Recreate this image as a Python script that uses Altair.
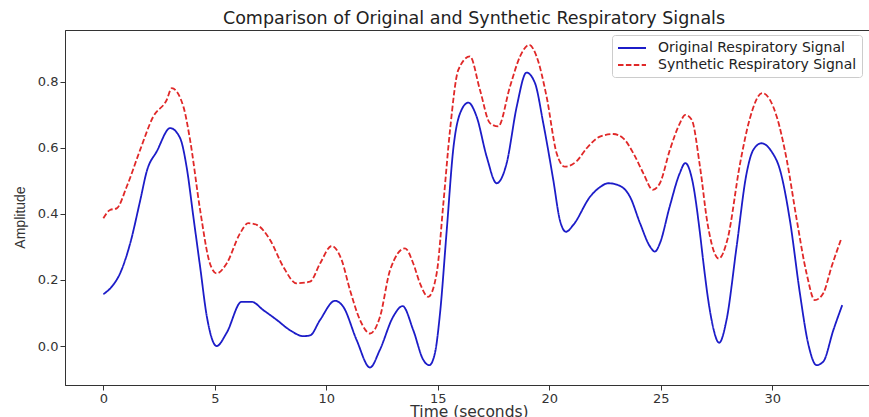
import altair as alt
import pandas as pd

names = ["Original Respiratory Signal", "Synthetic Respiratory Signal"]

t_orig = [0, 0.38, 0.75, 1.2, 1.65, 1.95, 2.4, 3.0, 3.44, 3.74, 4.04, 4.34, 4.64, 5.08, 5.53,
          6.2, 6.65, 7.17, 7.78, 8.37, 8.97, 9.27, 9.72, 10.39, 10.76, 11.36, 11.96, 12.4, 13.0,
          13.42, 13.9, 14.35, 14.62, 14.87, 15.1, 15.4, 15.7, 16.0, 16.37, 16.74, 17.19, 17.64,
          18.09, 18.54, 18.98, 19.36, 19.73, 20.18, 20.48, 20.75, 21.08, 21.83, 22.27, 22.65,
          23.17, 23.62, 24.07, 24.52, 24.74, 24.96, 25.4, 25.85, 26.1, 26.42, 26.76, 26.9, 27.13,
          27.28, 27.62, 27.95, 28.4, 28.85, 29.15, 29.52, 29.97, 30.35, 30.79, 31.24, 31.61,
          31.99, 32.29, 32.74, 33.14]
v_orig = [0.157, 0.18, 0.22, 0.31, 0.44, 0.53, 0.59, 0.66, 0.63, 0.54, 0.39, 0.24, 0.09, 0.0, 0.04,
          0.134, 0.134, 0.109, 0.079, 0.048, 0.03, 0.032, 0.079, 0.137, 0.119, 0.018, -0.065, -0.012, 0.089,
          0.121, 0.048, -0.042, -0.058, -0.022, 0.099, 0.35, 0.60, 0.705, 0.737, 0.695, 0.574, 0.493,
          0.554, 0.725, 0.828, 0.796, 0.675, 0.503, 0.38, 0.346, 0.367, 0.452, 0.481, 0.493,
          0.485, 0.452, 0.372, 0.301, 0.286, 0.311, 0.422, 0.523, 0.554, 0.5, 0.341, 0.26, 0.139,
          0.079, 0.01, 0.079, 0.30, 0.523, 0.594, 0.614, 0.589, 0.533, 0.382, 0.16, 0.008,
          -0.058, -0.047, 0.048, 0.124]

t_syn = [0, 0.3, 0.6, 1.05, 1.65, 2.24, 2.84, 3.07, 3.59, 3.89, 4.34, 4.78, 5.08, 5.53, 6.13, 6.5,
         6.88, 7.48, 8.07, 8.67, 9.27, 9.72, 10.24, 10.69, 11.06, 11.51, 11.96, 12.41, 12.86, 13.53,
         13.9, 14.2, 14.57, 14.95, 15.25, 15.55, 15.92, 16.44, 16.89, 17.34, 17.71, 18.24, 18.69,
         19.1, 19.43, 19.88, 20.33, 20.7, 21.23, 21.68, 22.27, 22.87, 23.32, 23.77, 24.22, 24.64,
         24.96, 25.41, 25.86, 26.1, 26.39, 26.76, 27.1, 27.6, 28.0, 28.55, 29.0, 29.55, 30.2,
         30.65, 31.1, 31.54, 31.91, 32.29, 32.66, 33.1]
v_syn = [0.387, 0.412, 0.417, 0.483, 0.594, 0.695, 0.745, 0.781, 0.725, 0.624, 0.412, 0.25, 0.22, 0.25,
         0.341, 0.372, 0.367, 0.321, 0.24, 0.19, 0.195, 0.25, 0.303, 0.26, 0.17, 0.079, 0.038, 0.089,
         0.23, 0.296, 0.25, 0.19, 0.149, 0.22, 0.432, 0.655, 0.836, 0.877, 0.776, 0.675, 0.665, 0.786,
         0.877, 0.912, 0.877, 0.755, 0.584, 0.543, 0.56, 0.599, 0.634, 0.642, 0.629, 0.584, 0.523,
         0.473, 0.493, 0.594, 0.675, 0.70, 0.685, 0.543, 0.37, 0.265, 0.325, 0.55, 0.69, 0.766,
         0.695, 0.564, 0.382, 0.22, 0.139, 0.16, 0.24, 0.326]

x_ticks = [0, 5, 10, 15, 20, 25, 30]
y_ticks = [0.0, 0.2, 0.4, 0.6, 0.8]

df = pd.concat([
    pd.DataFrame({"t": t_orig, "v": v_orig, "series": names[0], "k": 0}),
    pd.DataFrame({"t": t_syn, "v": v_syn, "series": names[1], "k": 1}),
])

chart = alt.Chart(df).mark_line(strokeWidth=1.8, interpolate="monotone").encode(
    x=alt.X("t:Q",
            scale=alt.Scale(domain=[-1.72, 34.34], nice=False, zero=False),
            axis=alt.Axis(values=x_ticks, format="d", title="Time (seconds)",
                          titleFontSize=15.5,
                          titleX=404, titleY=26, titleBaseline="middle", titleAlign="center")),
    y=alt.Y("v:Q",
            scale=alt.Scale(domain=[-0.118, 0.957], nice=False, zero=False),
            axis=alt.Axis(values=y_ticks, format=".1f", title="Amplitude",
                          titleFont="Liberation Sans", titleFontSize=14,
                          titleX=-45, titleY=187, titleBaseline="middle", titleAlign="center",
                          titleAngle=270)),
    color=alt.Color("series:N", sort=names,
                    scale=alt.Scale(domain=names, range=["#1c1cc8", "#e02828"]),
                    legend=alt.Legend(title=None)),
    strokeDash=alt.StrokeDash("series:N", sort=names,
                              scale=alt.Scale(domain=names, range=[[1, 0], [5.5, 2.4]]),
                              legend=alt.Legend(title=None)),
    order=alt.Order("k:Q"),
).properties(
    width=804,
    height=355,
    title=alt.TitleParams("Comparison of Original and Synthetic Respiratory Signals",
                          font="DejaVu Sans", fontSize=17.5, fontWeight="normal",
                          color="#222222", anchor="middle", dx=7, offset=3),
    autosize=alt.AutoSizeParams(type="none"),
    padding={"left": 65, "top": 30, "right": 0, "bottom": 32},
).configure_view(
    stroke="#333333", strokeWidth=1
).configure_axis(
    grid=False,
    domainColor="#333333",
    tickColor="#333333",
    tickSize=5,
    labelFont="DejaVu Sans",
    labelFontSize=13,
    labelColor="#333333",
    labelPadding=2,
    titleFont="DejaVu Sans",
    titleFontSize=13,
    titleFontWeight="normal",
    titleColor="#333333",
).configure_legend(
    orient="none",
    legendX=547,
    legendY=5,
    fillColor="white",
    strokeColor="#cccccc",
    cornerRadius=3,
    padding=5,
    symbolType="M-1,0H3",
    symbolSize=196,
    symbolStrokeWidth=1.8,
    labelFont="DejaVu Sans",
    labelFontSize=14,
    labelColor="#222222",
    labelOffset=25,
    labelLimit=0,
    rowPadding=2,
)

chart.save("out.html", embed_options={"renderer": "svg", "actions": False})
